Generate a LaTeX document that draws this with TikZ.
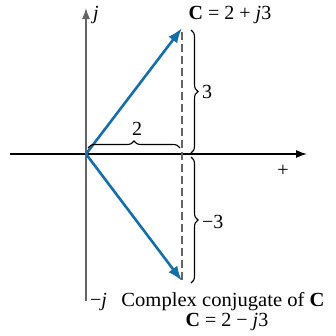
\documentclass[tikz,border=0pt]{standalone}
\usepackage{fontspec}
\setmainfont{Liberation Serif}
\usetikzlibrary{arrows.meta,decorations.pathreplacing}
\definecolor{vecblue}{RGB}{20,110,170}
\definecolor{axgray}{RGB}{100,100,100}
\tikzset{
  axis/.style={line width=1.4pt,-{Latex[length=11pt,width=8pt]}},
  vec/.style={vecblue,line width=2.6pt,-{Latex[length=15pt,width=11pt]}},
  brc/.style={decorate,decoration={brace,amplitude=7pt},line width=1.1pt},
  lbl/.style={font=\fontsize{20}{22}\selectfont,inner sep=0pt},
}
\begin{document}
\begin{tikzpicture}[x=1pt,y=-1pt]
\useasboundingbox (0,0) rectangle (336,335);
\coordinate (O) at (86,154);
\coordinate (xl) at (10,154);
\coordinate (xr) at (307,154);
\coordinate (yt) at (86,8);
\coordinate (yb) at (86,301);
\coordinate (P) at (182,28);
\coordinate (Q) at (182,281);
\draw[axis] (xl) -- (xr);
\draw[axis,axgray] (yb) -- (yt);
\draw[axgray,line width=1.3pt,dash pattern=on 8pt off 4pt] (182,32) -- (182,282);
\draw[vec] (O) -- (P);
\draw[vec] (O) -- (Q);
\draw[brc] (191,30) -- (191,153);
\draw[brc] (191,157) -- (191,283);
\draw[brc] (88,148) -- (180,148);
\node[lbl] (t2) at (137,129) {2};
\node[lbl,anchor=west] (t3) at (202,92) {3};
\node[lbl,anchor=west] (tm3) at (202,222) {−3};
\node[lbl] (tp) at (283,171) {+};
\node[lbl,anchor=west] (tj) at (93,15) {\textit{j}};
\node[lbl] (tc) at (230,15) {\textbf{C} = 2 + \textit{j}3};
\node[lbl,anchor=west] (tmj) at (90,302) {−\textit{j}};
\node[lbl] (tcc) at (223,302) {\scalebox{1.03}[1]{Complex conjugate of \textbf{C}}};
\node[lbl] (tc2) at (227,322) {\textbf{C} = 2 − \textit{j}3};
\end{tikzpicture}
\end{document}
